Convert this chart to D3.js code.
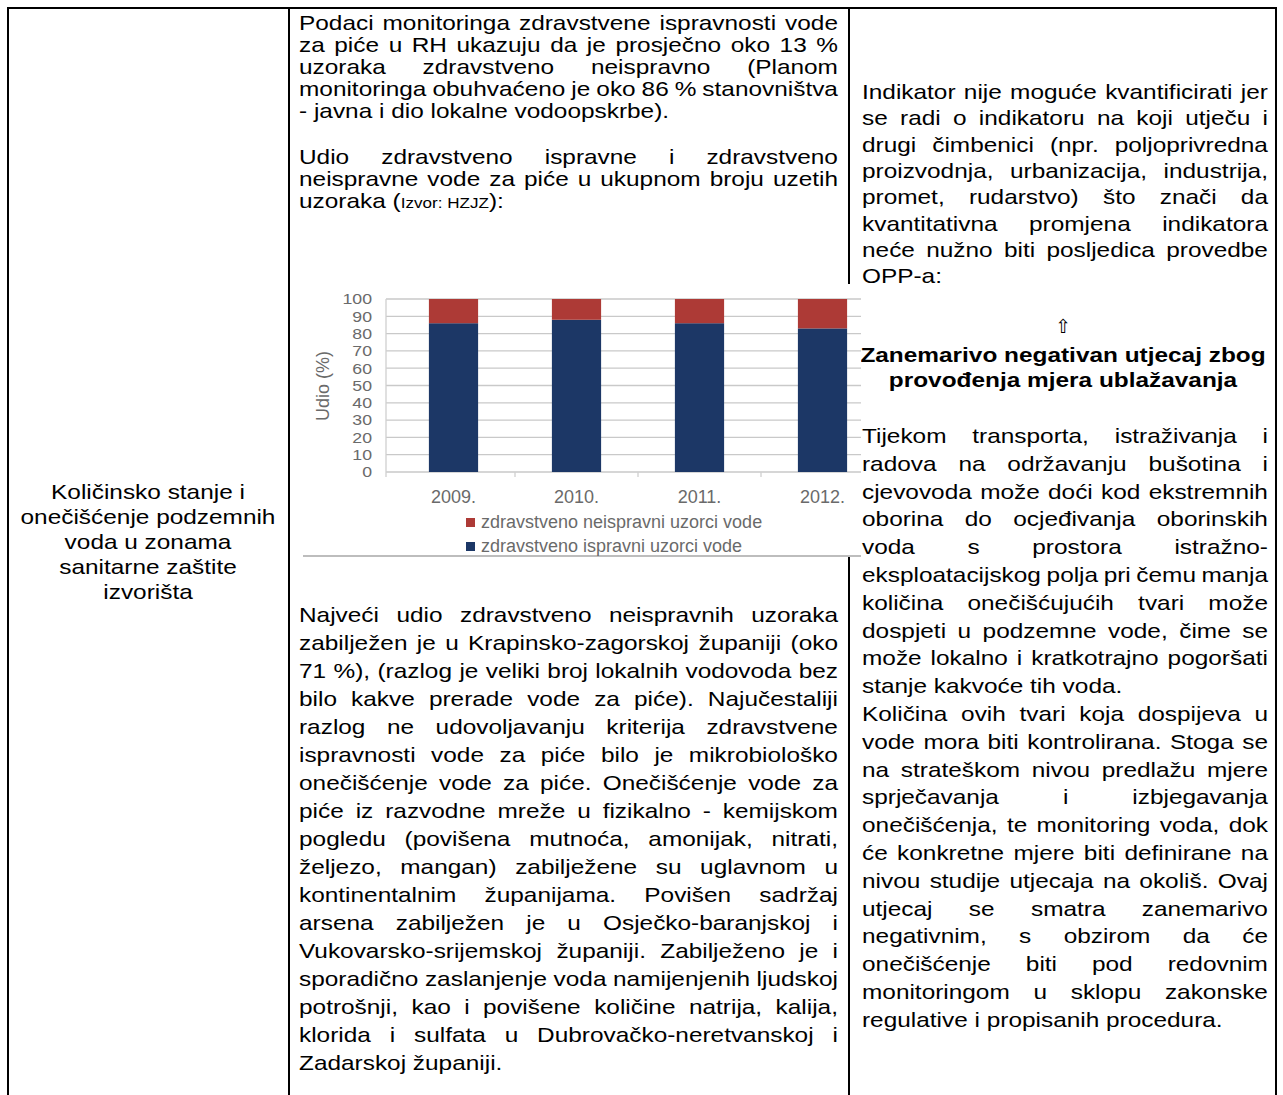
<!DOCTYPE html>
<html><head><meta charset="utf-8">
<script src="https://cdn.jsdelivr.net/npm/d3@7"></script>
<style>body{margin:0;background:#fff}svg{display:block}</style>
</head><body>
<svg id="c" width="1283" height="1095"></svg>
<script>
// ---------- chart data ----------
const years = ["2009.", "2010.", "2011.", "2012."];
const ispravni = [86, 88, 86, 83];
const neispravni = [14, 12, 14, 17];
const yTicks = [0, 10, 20, 30, 40, 50, 60, 70, 80, 90, 100];
const seriesNames = ["zdravstveno neispravni uzorci vode", "zdravstveno ispravni uzorci vode"];
const yTitle = "Udio (%)";

// ---------- document text ----------
const col1Lines = ["Količinsko stanje i", "onečišćenje podzemnih", "voda u zonama", "sanitarne zaštite", "izvorišta"];
const p1 = ["Podaci monitoringa zdravstvene ispravnosti vode",
  "za piće u RH ukazuju da je prosječno oko 13 %",
  "uzoraka zdravstveno neispravno (Planom",
  "monitoringa obuhvaćeno je oko 86 % stanovništva",
  "- javna i dio lokalne vodoopskrbe)."];
const p2 = ["Udio zdravstveno ispravne i zdravstveno",
  "neispravne vode za piće u ukupnom broju uzetih"];
const p2lastA = "uzoraka (", p2lastB = "Izvor: HZJZ", p2lastC = "):";
const p3 = ["Najveći udio zdravstveno neispravnih uzoraka",
  "zabilježen je u Krapinsko-zagorskoj županiji (oko",
  "71 %), (razlog je veliki broj lokalnih vodovoda bez",
  "bilo kakve prerade vode za piće). Najučestaliji",
  "razlog ne udovoljavanju kriterija zdravstvene",
  "ispravnosti vode za piće bilo je mikrobiološko",
  "onečišćenje vode za piće. Onečišćenje vode za",
  "piće iz razvodne mreže u fizikalno - kemijskom",
  "pogledu (povišena mutnoća, amonijak, nitrati,",
  "željezo, mangan) zabilježene su uglavnom u",
  "kontinentalnim županijama. Povišen sadržaj",
  "arsena zabilježen je u Osječko-baranjskoj i",
  "Vukovarsko-srijemskoj županiji. Zabilježeno je i",
  "sporadično zaslanjenje voda namijenjenih ljudskoj",
  "potrošnji, kao i povišene količine natrija, kalija,",
  "klorida i sulfata u Dubrovačko-neretvanskoj i",
  "Zadarskoj županiji."];
const p4 = ["Indikator nije moguće kvantificirati jer",
  "se radi o indikatoru na koji utječu i",
  "drugi čimbenici (npr. poljoprivredna",
  "proizvodnja, urbanizacija, industrija,",
  "promet, rudarstvo) što znači da",
  "kvantitativna promjena indikatora",
  "neće nužno biti posljedica provedbe",
  "OPP-a:"];
const arrowSym = "⇧";
const heading = ["Zanemarivo negativan utjecaj zbog", "provođenja mjera ublažavanja"];
const p5 = ["Tijekom transporta, istraživanja i",
  "radova na održavanju bušotina i",
  "cjevovoda može doći kod ekstremnih",
  "oborina do ocjeđivanja oborinskih",
  "voda s prostora istražno-",
  "eksploatacijskog polja pri čemu manja",
  "količina onečišćujućih tvari može",
  "dospjeti u podzemne vode, čime se",
  "može lokalno i kratkotrajno pogoršati",
  "stanje kakvoće tih voda."];
const p6 = ["Količina ovih tvari koja dospijeva u",
  "vode mora biti kontrolirana. Stoga se",
  "na strateškom nivou predlažu mjere",
  "sprječavanja i izbjegavanja",
  "onečišćenja, te monitoring voda, dok",
  "će konkretne mjere biti definirane na",
  "nivou studije utjecaja na okoliš. Ovaj",
  "utjecaj se smatra zanemarivo",
  "negativnim, s obzirom da će",
  "onečišćenje biti pod redovnim",
  "monitoringom u sklopu zakonske",
  "regulative i propisanih procedura."];

// ---------- layout ----------
const FONT = "'Liberation Sans', Arial, sans-serif";
const FS = 20, SX = 1.22;
const svg = d3.select("#c");
svg.append("rect").attr("width", 1283).attr("height", 1095).attr("fill", "#fff");

const gText = svg.append("g").attr("font-family", FONT).attr("font-size", FS).attr("fill", "#000");

function para(g, lines, x0, width, y0, lh, justifyLast) {
  lines.forEach((line, i) => {
    const y = y0 + i * lh;
    const last = (i === lines.length - 1) && !justifyLast;
    if (last) {
      g.append("text").attr("transform", `translate(${x0},${y}) scale(${SX},1)`).text(line);
      return;
    }
    const words = line.split(" ");
    const els = words.map(w => g.append("text").text(w));
    const ws = els.map(e => e.node().getComputedTextLength() * SX);
    const gap = words.length > 1 ? (width - d3.sum(ws)) / (words.length - 1) : 0;
    let x = x0;
    els.forEach((e, j) => {
      e.attr("transform", `translate(${x},${y}) scale(${SX},1)`);
      x += ws[j] + gap;
    });
  });
}
function centered(g, lines, cx, y0, lh, bold) {
  lines.forEach((line, i) => {
    g.append("text").attr("transform", `translate(${cx},${y0 + i * lh}) scale(${SX},1)`)
      .attr("text-anchor", "middle").attr("font-weight", bold ? "bold" : null).text(line);
  });
}

// column 1
centered(gText, col1Lines, 148, 499, 25);

// column 2
const c2x = 299, c2w = 539;
para(gText, p1, c2x, c2w, 30, 22);
para(gText, p2, c2x, c2w, 164, 22, true);
const lastT = gText.append("text").attr("transform", `translate(${c2x},${164 + 2 * 22}) scale(${SX},1)`);
lastT.append("tspan").text(p2lastA);
lastT.append("tspan").attr("font-size", 14).text(p2lastB);
lastT.append("tspan").text(p2lastC);
para(gText, p3, c2x, c2w, 622, 28);

// column 3
const c3x = 862, c3w = 406;
para(gText, p4, c3x, c3w, 99, 26.3);
gText.append("text").attr("x", 1063).attr("y", 333).attr("text-anchor", "middle")
  .attr("font-family", "'DejaVu Sans', sans-serif").attr("font-size", 19).text(arrowSym);
centered(gText, heading, 1063, 362, 25, true);
para(gText, p5, c3x, c3w, 443, 27.8);
para(gText, p6, c3x, c3w, 443 + 10 * 27.8, 27.8);

// table lines
const gL = svg.append("g").attr("stroke", "#000").attr("stroke-width", 2);
gL.append("line").attr("x1", 7).attr("x2", 1277).attr("y1", 8).attr("y2", 8);
[8, 289, 849, 1276].forEach(x => gL.append("line").attr("x1", x).attr("x2", x).attr("y1", 7).attr("y2", 1095));

// ---------- embedded chart ----------
const CF = 18, TF = 15;
const gc = svg.append("g").attr("font-family", FONT);
const imgX0 = 303, imgX1 = 861, imgY0 = 284, imgY1 = 556;
gc.append("rect").attr("x", imgX0).attr("y", imgY0).attr("width", imgX1 - imgX0).attr("height", imgY1 - imgY0).attr("fill", "#fff");
gc.append("line").attr("x1", imgX0).attr("x2", imgX1).attr("y1", imgY1).attr("y2", imgY1)
  .attr("stroke", "#bdbdbd").attr("stroke-width", 2);

const x = d3.scaleBand().domain(years).range([392, 884]).paddingInner(0.6).paddingOuter(0.3);
const y = d3.scaleLinear().domain([0, 100]).range([472, 299]);
const plotL = 386, plotR = imgX1;

// gridlines
gc.append("g").selectAll("line").data(yTicks).join("line")
  .attr("x1", plotL).attr("x2", plotR).attr("y1", d => y(d)).attr("y2", d => y(d))
  .attr("stroke", "#c9c9c9").attr("stroke-width", 1.3);
gc.append("line").attr("x1", plotL).attr("x2", plotL).attr("y1", y(100)).attr("y2", y(0) + 5)
  .attr("stroke", "#cfcfcf").attr("stroke-width", 1.3);

const yAxis = d3.axisLeft(y).tickValues(yTicks).tickSize(0).tickPadding(0);
const ya = gc.append("g").attr("transform", `translate(372,0)`).call(yAxis);
ya.select(".domain").remove();
ya.selectAll("text").attr("font-family", FONT).attr("font-size", TF).attr("fill", "#6a6a6a")
  .attr("transform", "scale(1.18,1)");

gc.append("text").attr("transform", `translate(329,386) rotate(-90)`).attr("text-anchor", "middle")
  .attr("font-size", CF).attr("fill", "#6a6a6a").text(yTitle);

// x axis ticks between categories
const sep = years.slice(1).map((d) => x(d) - x.step() * x.paddingInner() / 2);
gc.append("g").selectAll("line").data(sep).join("line")
  .attr("x1", d => d).attr("x2", d => d).attr("y1", y(0)).attr("y2", y(0) + 5)
  .attr("stroke", "#cfcfcf").attr("stroke-width", 1.3);

const colOK = "#1c3766", colBad = "#ad3a36";
const bars = gc.append("g");
bars.selectAll("rect.ok").data(years).join("rect").attr("class", "ok")
  .attr("x", d => x(d)).attr("width", x.bandwidth())
  .attr("y", (d, i) => y(ispravni[i])).attr("height", (d, i) => y(0) - y(ispravni[i]))
  .attr("fill", colOK);
bars.selectAll("rect.bad").data(years).join("rect").attr("class", "bad")
  .attr("x", d => x(d)).attr("width", x.bandwidth())
  .attr("y", (d, i) => y(ispravni[i] + neispravni[i])).attr("height", (d, i) => y(ispravni[i]) - y(ispravni[i] + neispravni[i]))
  .attr("fill", colBad);

const xAxis = d3.axisBottom(x).tickSize(0).tickPadding(0);
const xa = gc.append("g").attr("transform", `translate(0,${y(0) + 31})`).call(xAxis);
xa.select(".domain").remove();
xa.selectAll("text").attr("font-family", FONT).attr("font-size", CF).attr("fill", "#6a6a6a").attr("dy", 0);

// legend
const leg = gc.append("g");
seriesNames.forEach((s, i) => {
  const ly = 523 + i * 24;
  leg.append("rect").attr("x", 466).attr("y", ly - 5).attr("width", 9).attr("height", 9).attr("fill", i === 0 ? colBad : colOK);
  leg.append("text").attr("x", 481).attr("y", ly + 5).attr("font-size", CF).attr("fill", "#6a6a6a").text(s);
});
</script>
</body></html>
